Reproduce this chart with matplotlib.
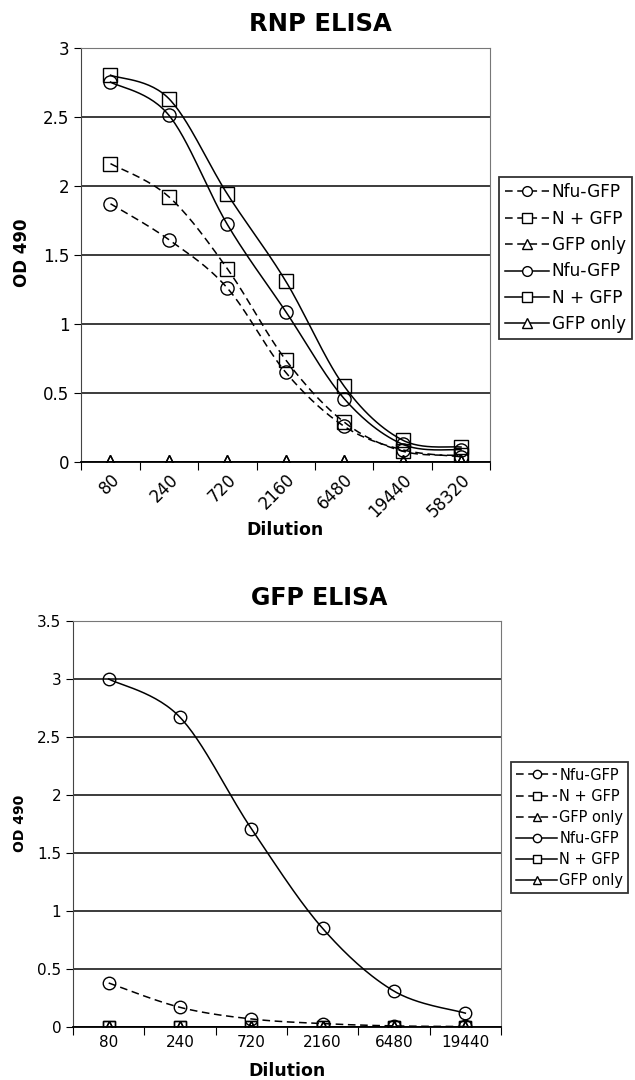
import numpy as np
import matplotlib.pyplot as plt

# data
rnp_dil = ['80', '240', '720', '2160', '6480', '19440', '58320']
rnp_nfu_dash = [1.87, 1.61, 1.26, 0.65, 0.26, 0.09, 0.04]
rnp_n_dash = [2.16, 1.92, 1.40, 0.74, 0.29, 0.08, 0.05]
rnp_gfp_dash = [0, 0, 0, 0, 0, 0, 0]
rnp_nfu_solid = [2.75, 2.51, 1.72, 1.09, 0.46, 0.13, 0.09]
rnp_n_solid = [2.80, 2.63, 1.94, 1.31, 0.55, 0.16, 0.11]
rnp_gfp_solid = [0, 0, 0, 0, 0, 0, 0]

gfp_dil = ['80', '240', '720', '2160', '6480', '19440']
gfp_nfu_dash = [0.38, 0.17, 0.07, 0.03, 0.01, 0.005]
gfp_n_dash = [0, 0, 0, 0, 0, 0]
gfp_gfp_dash = [0, 0, 0, 0, 0, 0]
gfp_nfu_solid = [3.00, 2.67, 1.71, 0.85, 0.31, 0.12]
gfp_n_solid = [0, 0, 0, 0, 0, 0]
gfp_gfp_solid = [0, 0, 0, 0, 0, 0]

names = ['Nfu-GFP', 'N + GFP', 'GFP only']
marks = ['o', 's', '^']


def smooth(y, n=30):
    # bezier smoothing like the spreadsheet "smoothed line"
    x = np.arange(len(y), dtype=float)
    y = np.asarray(y, dtype=float)
    px = np.concatenate([[x[0]], x, [x[-1]]])
    py = np.concatenate([[y[0]], y, [y[-1]]])
    xs, ys = [], []
    t = np.linspace(0, 1, n)
    for i in range(len(x) - 1):
        p0 = np.array([px[i + 1], py[i + 1]])
        p3 = np.array([px[i + 2], py[i + 2]])
        c1 = p0 + (np.array([px[i + 2], py[i + 2]]) - np.array([px[i], py[i]])) / 6
        c2 = p3 - (np.array([px[i + 3], py[i + 3]]) - np.array([px[i + 1], py[i + 1]])) / 6
        b = ((1 - t) ** 3)[:, None] * p0 + (3 * (1 - t) ** 2 * t)[:, None] * c1 \
            + (3 * (1 - t) * t ** 2)[:, None] * c2 + (t ** 3)[:, None] * p3
        xs.extend(b[:, 0])
        ys.extend(b[:, 1])
    return xs, ys


def panel(ax, cats, dashed, solid, ymax, msz, lmsz, fs, rot):
    n = len(cats)
    handles = []
    for sers, ls in [(dashed, (0, (5, 3))), (solid, '-')]:
        for y, m, nm in zip(sers, marks, names):
            xs, ys = smooth(y)
            ax.plot(xs, ys, color='black', lw=1.1, ls=ls, zorder=3)
            ax.plot(range(n), y, ls='none', marker=m, ms=msz, mfc='none',
                    mec='black', mew=1.0, zorder=4)
            h, = ax.plot([], [], color='black', lw=1.1, ls=ls, marker=m, ms=lmsz,
                         mfc='white', mec='black', mew=1.0, label=nm)
            handles.append(h)
    ax.set_xlim(-0.5, n - 0.5)
    ax.set_ylim(0, ymax)
    ax.set_yticks(np.arange(0, ymax + 0.01, 0.5))
    ax.set_yticklabels([('%g' % v) for v in np.arange(0, ymax + 0.01, 0.5)], fontsize=fs)
    ax.yaxis.grid(True, color='#1a1a1a', lw=1.2)
    ax.set_axisbelow(True)
    ax.set_xticks(np.arange(-0.5, n, 1.0))
    ax.set_xticklabels([])
    ax.set_xticks(range(n), minor=True)
    if rot:
        ax.set_xticklabels(cats, minor=True, fontsize=fs, rotation=45, ha='right',
                           rotation_mode='anchor')
    else:
        ax.set_xticklabels(cats, minor=True, fontsize=fs)
    ax.tick_params(axis='x', which='minor', length=0, pad=6)
    ax.tick_params(axis='x', which='major', length=6, direction='out')
    ax.tick_params(axis='y', length=5, direction='out')
    for s in ['top', 'right']:
        ax.spines[s].set_color('#777777')
    ax.spines['left'].set_color('#444444')
    ax.spines['bottom'].set_color('black')
    ax.spines['bottom'].set_linewidth(1.3)
    return handles


fig = plt.figure(figsize=(6.35, 10.8), dpi=100)

ax1 = fig.add_axes([0.128, 0.572, 0.644, 0.384])
h1 = panel(ax1, rnp_dil, [rnp_nfu_dash, rnp_n_dash, rnp_gfp_dash],
           [rnp_nfu_solid, rnp_n_solid, rnp_gfp_solid], 3, 9.5, 7, 12, True)
fig.text(0.504, 0.978, 'RNP ELISA', ha='center', va='center', fontsize=17.5, fontweight='bold')
fig.text(0.449, 0.509, 'Dilution', ha='center', va='center', fontsize=12.5, fontweight='bold')
fig.text(0.035, 0.766, 'OD 490', ha='center', va='center', fontsize=12, fontweight='bold',
         rotation=90)
leg1 = fig.legend(handles=h1, loc='upper left', bbox_to_anchor=(0.786, 0.836),
                  fontsize=12.2, frameon=True, fancybox=False, edgecolor='black',
                  handlelength=2.6, handletextpad=0.15, borderpad=0.35, labelspacing=0.5,
                  borderaxespad=0)
leg1.get_frame().set_linewidth(1.3)

ax2 = fig.add_axes([0.115, 0.049, 0.674, 0.376])
h2 = panel(ax2, gfp_dil, [gfp_nfu_dash, gfp_n_dash, gfp_gfp_dash],
           [gfp_nfu_solid, gfp_n_solid, gfp_gfp_solid], 3.5, 9, 6, 11, False)
fig.text(0.502, 0.446, 'GFP ELISA', ha='center', va='center', fontsize=17, fontweight='bold')
fig.text(0.452, 0.008, 'Dilution', ha='center', va='center', fontsize=12.5, fontweight='bold')
fig.text(0.032, 0.238, 'OD 490', ha='center', va='center', fontsize=10, fontweight='bold',
         rotation=90)
leg2 = fig.legend(handles=h2, loc='upper left', bbox_to_anchor=(0.805, 0.294),
                  fontsize=10.5, frameon=True, fancybox=False, edgecolor='black',
                  handlelength=2.8, handletextpad=0.15, borderpad=0.35, labelspacing=0.42,
                  borderaxespad=0)
leg2.get_frame().set_linewidth(1.3)

fig.savefig('out.png', dpi=100)
